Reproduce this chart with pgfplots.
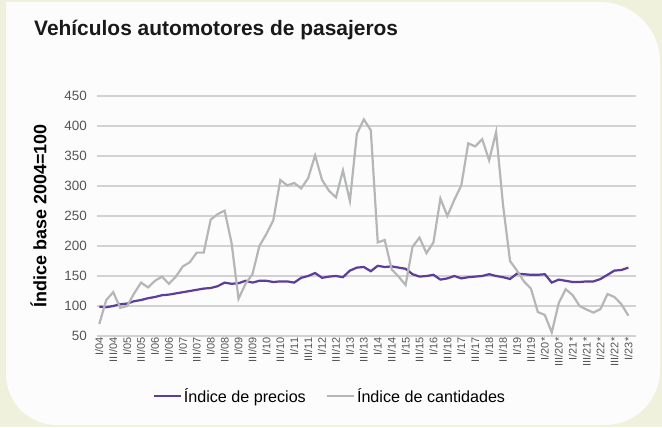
\documentclass[border=0pt]{standalone}
\usepackage{pgfplots}
\pgfplotsset{compat=1.18}
\usepackage{pgfplotstable}
\usepackage{fontspec}
\setmainfont{Liberation Sans}
\definecolor{bgcol}{HTML}{F0F1DC}
\definecolor{panel}{HTML}{FCFCFC}
\definecolor{purp}{HTML}{5C3D99}
\definecolor{grayline}{HTML}{B5B7B6}
\definecolor{gridc}{HTML}{D2D2D2}
\definecolor{tickc}{HTML}{555555}

\pgfplotstableread{
i precios cantidades
0 99 70
1 98 110
2 100 123
3 103 97
4 104 100
5 108 121
6 110 139
7 113 131
8 115 142
9 118 149
10 119 137
11 121 149
12 123 166
13 125 173
14 127 189
15 129 189
16 130 244
17 133 253
18 139 259
19 137 205
20 138 112
21 142 137
22 139 153
23 142 200
24 142 220
25 140 243
26 141 310
27 141 301
28 139 305
29 147 296
30 150 313
31 155 351
32 147 310
33 149 292
34 150 281
35 148 326
36 159 275
37 164 387
38 165 411
39 158 393
40 167 206
41 165 210
42 166 161
43 164 149
44 162 135
45 153 199
46 149 214
47 150 188
48 152 206
49 144 279
50 146 250
51 150 277
52 146 301
53 148 371
54 149 366
55 150 378
56 153 343
57 150 390
58 148 268
59 145 175
60 154 159
61 153 141
62 152 129
63 152 90
64 153 85
65 139 56
66 144 105
67 142 128
68 140 118
69 140 100
70 141 94
71 141 89
72 145 95
73 152 120
74 159 115
75 160 103
76 164 84
}\datatable

\begin{document}
\begin{tikzpicture}[x=1bp,y=1bp]
\fill[bgcol] (0,0) rectangle (662,427);
\fill[panel] (6,425) -- (600,425) arc[start angle=90,end angle=0,radius=60] -- (660,57) arc[start angle=0,end angle=-90,radius=55] -- (57,2) arc[start angle=270,end angle=180,radius=51] -- cycle;
\node[anchor=west,font=\fontsize{21}{24}\selectfont\bfseries,text=black!90,inner sep=0pt] at (34,397) {Vehículos automotores de pasajeros};
\begin{axis}[
  at={(97bp,91bp)}, anchor=south west,
  scale only axis, width=539bp, height=240bp,
  xmin=-0.33, xmax=77.1, ymin=50, ymax=450,
  axis line style={draw=none},
  major tick style={draw=none},
  ytick={50,100,...,450},
  ymajorgrids, grid style={gridc, line width=1.3bp},
  yticklabel style={font=\fontsize{13.5}{16}\selectfont, text=tickc, inner sep=2bp, xshift=-8bp},
  /pgf/number format/assume math mode=true,
  xtick={0,2,...,76},
  xticklabels={I/04,III/04,I/05,III/05,I/06,III/06,I/07,III/07,I/08,III/08,I/09,III/09,I/10,III/10,I/11,III/11,I/12,III/12,I/13,III/13,I/14,III/14,I/15,III/15,I/16,III/16,I/17,III/17,I/18,III/18,I/19,III/19,I/20*,III/20*,I/21*,III/21*,I/22*,III/22*,I/23*},
  xticklabel style={rotate=90, anchor=east, font=\fontsize{11}{12}\selectfont, text=tickc, inner sep=1.5bp},
  ylabel={\bfseries Índice base 2004=100},
  ylabel style={font=\fontsize{18}{20}\selectfont, at={(-0.087,0.5)}},
  legend style={at={(0.432,-0.25)}, anchor=center, draw=none, fill=none,
    font=\fontsize{16.2}{18}\selectfont, legend columns=2,
    /tikz/every even column/.append style={column sep=18bp}},
  legend image code/.code={\draw[#1, line width=2.2bp] (0bp,0bp) -- (27bp,0bp);},
]
\addplot[purp, line width=2.2bp] table[x=i, y=precios] {\datatable};
\addlegendentry{Índice de precios}
\addplot[grayline, line width=2.2bp] table[x=i, y=cantidades] {\datatable};
\addlegendentry{Índice de cantidades}
\end{axis}
\end{tikzpicture}
\end{document}
